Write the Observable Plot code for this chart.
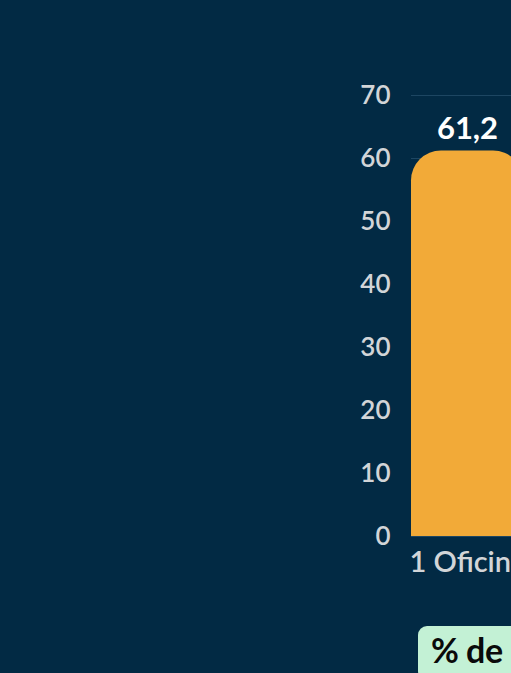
<!DOCTYPE html>
<html>
<head>
<meta charset="utf-8">
<script src="https://cdn.jsdelivr.net/npm/d3@7"></script>
<script src="https://cdn.jsdelivr.net/npm/@observablehq/plot@0.6"></script>
<style>
  html, body { margin: 0; padding: 0; background: #022a44; overflow: hidden; width: 511px; height: 673px; }
  #wrap { position: relative; width: 900px; font-family: Lato, "Open Sans", sans-serif; }
  #legend {
    position: absolute; left: 418px; top: 626px;
    background: #c3f1d5; color: #0a0a0a; border-radius: 9px;
    font-family: Lato, sans-serif; font-weight: 700; font-size: 34px; line-height: 40px;
    padding: 4px 14px 10px 13px; white-space: nowrap; letter-spacing: -0.5px;
  }
</style>
</head>
<body>
<div id="wrap"><div id="chart"></div><div id="legend">% de hogares</div></div>
<script>
const categories = ["1 Oficina"];
const values = [61.2];
const yTicks = [0, 10, 20, 30, 40, 50, 60, 70];

const data = categories.map((c, i) => ({cat: c, value: values[i]}));
const fmt = v => d3.format(".1f")(v).replace(".", ",");

const chart = Plot.plot({
  width: 560,
  height: 600,
  marginTop: 95,
  marginBottom: 64,
  marginLeft: 411,
  marginRight: 37,
  style: {background: "transparent", fontFamily: "Lato, sans-serif", overflow: "visible"},
  x: {domain: categories, padding: 0, label: null},
  y: {domain: [0, 70], label: null},
  marks: [
    Plot.ruleY(yTicks, {stroke: "#1d4662", strokeWidth: 1}),
    Plot.barY(data, {x: "cat", y: "value", fill: "#f2aa38", rx: 30, inset: 0}),
    Plot.barY(data, {x: "cat", y: d => d.value / 2, fill: "#f2aa38", inset: 0}),
    Plot.text(data, {x: "cat", y: "value", text: d => fmt(d.value), dy: -12, lineAnchor: "bottom",
      fill: "white", fontWeight: 700, fontSize: 31}),
    Plot.axisY({ticks: yTicks, tickSize: 0, tickPadding: 21, fontSize: 26, fontWeight: 600,
      color: "#d2d5d8", label: null, tickFormat: d => String(d)}),
    Plot.axisX({tickSize: 0, tickPadding: 15, fontSize: 29, fontWeight: 600, color: "#d2d5d8", label: null})
  ]
});
document.getElementById("chart").appendChild(chart);
</script>
</body>
</html>
